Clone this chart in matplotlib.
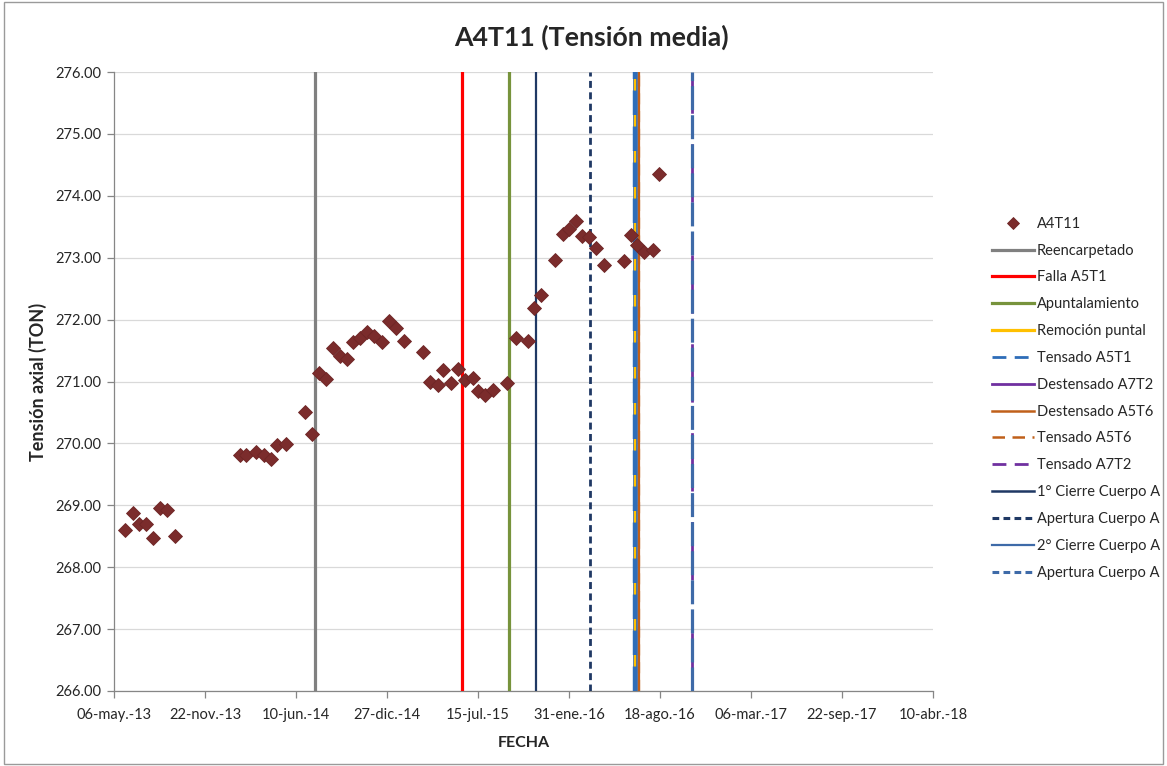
import matplotlib
matplotlib.use("Agg")
import matplotlib.pyplot as plt
import pandas as pd
from matplotlib.patches import Rectangle

plt.rcParams['font.family'] = ['Lato', 'DejaVu Sans']

# Serie de tensión media A4T11
fechas = [
    "2013-05-31", "2013-06-16", "2013-07-01", "2013-07-16", "2013-07-31", "2013-08-15",
    "2013-08-31", "2013-09-16",
    "2014-02-06", "2014-02-21", "2014-03-15", "2014-03-31", "2014-04-16", "2014-04-29",
    "2014-05-18",
    "2014-06-30", "2014-07-16", "2014-07-31", "2014-08-15", "2014-08-31", "2014-09-15",
    "2014-09-30", "2014-10-14", "2014-10-29", "2014-11-13", "2014-11-28", "2014-12-16",
    "2014-12-31", "2015-01-16", "2015-02-02",
    "2015-03-16", "2015-03-31", "2015-04-17", "2015-04-30", "2015-05-16", "2015-06-01",
    "2015-06-17", "2015-07-03", "2015-07-16", "2015-07-31", "2015-08-17",
    "2015-09-17", "2015-10-06", "2015-11-02", "2015-11-16", "2015-11-30", "2015-12-31",
    "2016-01-18", "2016-01-31", "2016-02-16", "2016-02-28", "2016-03-16", "2016-03-31",
    "2016-04-16", "2016-05-31", "2016-06-15", "2016-06-28", "2016-07-14", "2016-08-02",
    "2016-08-16",
]
tension = [
    268.60, 268.88, 268.70, 268.69, 268.47, 268.96, 268.92, 268.50,
    269.82, 269.82, 269.86, 269.81, 269.74, 269.97, 269.99,
    270.51, 270.15, 271.14, 271.04, 271.54, 271.41, 271.36, 271.64, 271.70, 271.80,
    271.74, 271.64, 271.98, 271.86, 271.66,
    271.47, 271.00, 270.94, 271.19, 270.98, 271.20, 271.03, 271.06, 270.84, 270.78,
    270.86,
    270.98, 271.71, 271.66, 272.18, 272.39, 272.96,
    273.38, 273.46, 273.60, 273.35, 273.34, 273.15, 272.88, 272.94, 273.37, 273.21,
    273.10, 273.12, 274.35,
]

# Eventos (líneas verticales)
eventos = [
    "Reencarpetado", "Falla A5T1", "Apuntalamiento", "Remoción puntal",
    "Tensado A5T1", "Destensado A7T2", "Destensado A5T6", "Tensado A5T6",
    "Tensado A7T2", "1° Cierre Cuerpo A", "Apertura Cuerpo A",
    "2° Cierre Cuerpo A", "Apertura Cuerpo A",
]
fechas_eventos = [
    "2014-07-22", "2015-06-10", "2015-09-22", "2016-06-24",
    "2016-06-24", "2016-06-24", "2016-07-02", "2016-07-02",
    "2016-10-27", "2015-11-19", "2016-03-18",
    "2016-06-24", "2016-10-27",
]

ticks_x = ["2013-05-06", "2013-11-22", "2014-06-10", "2014-12-27", "2015-07-15",
           "2016-01-31", "2016-08-18", "2017-03-06", "2017-09-22", "2018-04-10"]
etiquetas_x = ["06-may.-13", "22-nov.-13", "10-jun.-14", "27-dic.-14", "15-jul.-15",
               "31-ene.-16", "18-ago.-16", "06-mar.-17", "22-sep.-17", "10-abr.-18"]
ticks_y = [266, 267, 268, 269, 270, 271, 272, 273, 274, 275, 276]

# Estilo de cada evento: color, ancho, trazo, orden de dibujo,
# y ancho/trazo de su muestra en la leyenda
estilos = [
    dict(color="#808080", lw=2.3, dashes=None, z=3, leg_lw=2.3, leg_dash=None),
    dict(color="#FF0000", lw=2.3, dashes=None, z=3, leg_lw=2.3, leg_dash=None),
    dict(color="#77933C", lw=2.3, dashes=None, z=3, leg_lw=2.3, leg_dash=None),
    dict(color="#FFC000", lw=1.6, dashes=None, z=4, leg_lw=2.3, leg_dash=None),
    dict(color="#2E6DB8", lw=3.2, dashes=(5.5, 2.6), z=5, leg_lw=2.0, leg_dash=(5, 3)),
    dict(color="#7030A0", lw=2.0, dashes=None, z=2, leg_lw=2.0, leg_dash=None),
    dict(color="#C0601A", lw=1.6, dashes=None, z=3, leg_lw=1.8, leg_dash=None),
    dict(color="#C0601A", lw=1.6, dashes=(5, 3), z=3, leg_lw=1.8, leg_dash=(5, 3)),
    dict(color="#7030A0", lw=2.0, dashes=(5, 3), z=3, leg_lw=2.0, leg_dash=(5, 3)),
    dict(color="#1F3864", lw=1.6, dashes=None, z=3, leg_lw=1.8, leg_dash=None),
    dict(color="#1F3864", lw=2.0, dashes=(2.5, 1.6), z=3, leg_lw=2.2, leg_dash=(2.2, 1.4)),
    dict(color="#3E6AA8", lw=3.4, dashes=None, z=2, leg_lw=1.6, leg_dash=None),
    dict(color="#3E6AA8", lw=2.3, dashes=(7.5, 1.6), z=4, leg_lw=2.2, leg_dash=(2.2, 1.4)),
]

W, H = 1167, 766
fig = plt.figure(figsize=(W / 100, H / 100), dpi=100)
ax = fig.add_axes([114 / W, 1 - 691 / H, (933 - 114) / W, (691 - 72) / H])

x = pd.to_datetime(fechas)
handles = []
h_pts, = ax.plot(x, tension, linestyle="none", marker="D", markersize=7.2,
                 markerfacecolor="#7B2C2C", markeredgecolor="#6E2626",
                 markeredgewidth=0.6, zorder=6, label="A4T11")
handles.append(h_pts)

for nombre, fecha, est in zip(eventos, fechas_eventos, estilos):
    ln = ax.axvline(pd.Timestamp(fecha), color=est["color"], lw=est["lw"],
                    zorder=est["z"], label=nombre)
    if est["dashes"] is not None:
        ln.set_dashes(est["dashes"])
    handles.append(ln)

ax.set_xlim(pd.Timestamp(ticks_x[0]), pd.Timestamp(ticks_x[-1]))
ax.set_ylim(266, 276)
ax.set_xticks(pd.to_datetime(ticks_x))
ax.set_xticklabels(etiquetas_x)
ax.set_yticks(ticks_y)
ax.set_yticklabels([f"{v:.2f}" for v in ticks_y])

ax.yaxis.grid(True, color="#D9D9D9", lw=0.9)
ax.set_axisbelow(True)
for s in ["top", "right"]:
    ax.spines[s].set_visible(False)
for s in ["left", "bottom"]:
    ax.spines[s].set_color("#868686")
    ax.spines[s].set_linewidth(0.9)
ax.tick_params(axis="both", colors="#868686", labelcolor="#262626",
               labelsize=10.5, length=5, width=0.9)
ax.tick_params(axis="x", pad=7)
ax.tick_params(axis="y", pad=4)

ax.set_xlabel("FECHA", fontsize=11.5, fontweight="bold", color="#262626", labelpad=10)
ax.set_ylabel("Tensión axial (TON)", fontsize=13, fontweight="bold", color="#262626",
              labelpad=6)
fig.text(591 / W, 1 - 37 / H, "A4T11 (Tensión media)", ha="center", va="center",
         fontsize=19.2, fontweight="bold", color="#262626")

leg = fig.legend(handles=handles, loc="upper left",
                 bbox_to_anchor=(986 / W, 1 - 211 / H), frameon=False,
                 fontsize=10.5, handlelength=2.9, handletextpad=0.2,
                 labelspacing=0.88, borderaxespad=0)
for t in leg.get_texts():
    t.set_color("#262626")
leg_handles = leg.legend_handles
leg_handles[0].set_markersize(6.0)
for lh, est in zip(leg_handles[1:], estilos):
    lh.set_linewidth(est["leg_lw"])
    if est["leg_dash"] is None:
        lh.set_linestyle("-")
    else:
        lh.set_dashes(est["leg_dash"])

fig.patches.append(Rectangle((4 / W, 2 / H), (W - 8) / W, (H - 4) / H,
                             transform=fig.transFigure, fill=False,
                             edgecolor="#9A9A9A", lw=1.0))

fig.savefig("out.png", dpi=100)
